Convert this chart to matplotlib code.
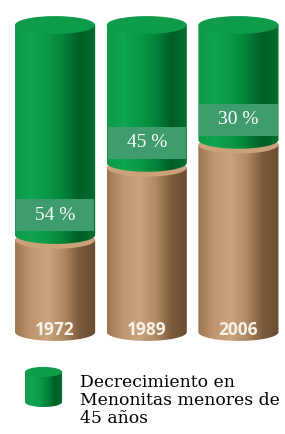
import numpy as np
import matplotlib.pyplot as plt
from matplotlib.patches import Polygon, Ellipse, Rectangle
from matplotlib.colors import LinearSegmentedColormap

# datos
years = ['1972', '1989', '2006']
menores_45 = [54, 45, 30]          # % etiquetado
nivel_cafe = [30, 53.5, 61]        # altura de la parte café (% del cilindro)

verde = LinearSegmentedColormap.from_list(
    'verde', ['#119a4a', '#0ea650', '#0a9a47', '#03823a', '#005e26', '#02702f'])
cafe = LinearSegmentedColormap.from_list(
    'cafe', ['#9c7752', '#c09670', '#c9a47e', '#b08a63', '#7c5a3b', '#6a4c31'])
grad = np.linspace(0, 1, 256)[np.newaxis, :]

fig = plt.figure(figsize=(2.85, 4.34), dpi=100)
ax = fig.add_axes([0, 0, 1, 1])
ax.axis('off')

w = 0.437      # medio ancho del cilindro
eh = 2.9       # medio alto de la elipse


def cuerpo(xc, y0, y1, cmap, z, w=w, eh=eh):
    t = np.linspace(np.pi, 2 * np.pi, 60)
    arco = list(zip(xc + w * np.cos(t), y0 + eh * np.sin(t)))
    verts = [(xc - w, y1)] + arco + [(xc + w, y1)]
    p = Polygon(verts, closed=True, facecolor='none', edgecolor='none')
    ax.add_patch(p)
    im = ax.imshow(grad, cmap=cmap, extent=(xc - w, xc + w, y0 - eh, y1),
                   aspect='auto', zorder=z, interpolation='bilinear')
    im.set_clip_path(p)


for i, yr in enumerate(years):
    lvl = nivel_cafe[i]
    # parte café
    cuerpo(i, 0, lvl, cafe, 1)
    ax.add_patch(Ellipse((i, lvl), 2 * w, 2 * eh, facecolor='#c9a27a',
                         edgecolor='none', zorder=2))
    # parte verde
    cuerpo(i, lvl + 1.6, 100, verde, 3)
    ax.add_patch(Ellipse((i, 100), 2 * w, 2 * eh, facecolor='#0f9c4a',
                         edgecolor='none', zorder=4))
    # etiqueta
    ax.add_patch(Rectangle((i - w + 0.01, lvl + 2.8), 2 * w - 0.02, 10.5,
                           facecolor='#3f9d6d', edgecolor='none', zorder=5))
    ax.text(i, lvl + 8.1, f'{menores_45[i]} %', ha='center', va='center',
            color='white', fontsize=14, family='Liberation Serif', zorder=6)
    ax.text(i, 0.5, yr, ha='center', va='center', color='#f7f1e8',
            fontsize=12.5, fontweight='bold', family='Open Sans', zorder=6)

# leyenda
lx, lw, ltop, lbot, leh = -0.126, 0.202, -13.0, -22.8, 1.63
cuerpo(lx, lbot, ltop, verde, 3, w=lw, eh=leh)
ax.add_patch(Ellipse((lx, ltop), 2 * lw, 2 * leh, facecolor='#0f9c4a',
                     edgecolor='none', zorder=4))
leyenda = ['Decrecimiento en', 'Menonitas menores de', '45 años']
for k, linea in enumerate(leyenda):
    ax.text(0.273, -16.5 - k * 5.86, linea, ha='left', va='center',
            color='black', fontsize=12.4, family='DejaVu Serif')

ax.set_xlim(-0.601, 2.508)
ax.set_ylim(-33.22, 108.14)
fig.savefig('out.png', dpi=100)
